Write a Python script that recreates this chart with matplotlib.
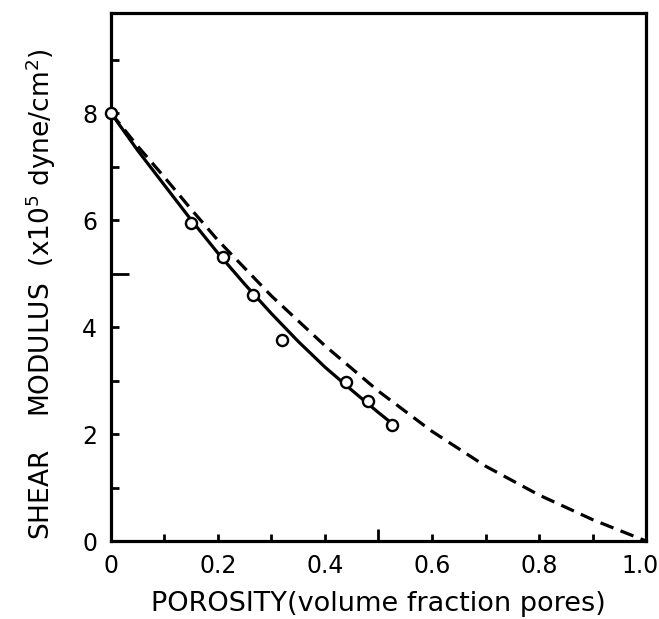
import matplotlib
matplotlib.use("Agg")
import matplotlib.pyplot as plt
from matplotlib.transforms import ScaledTranslation

# Data
pts_x = [0.0, 0.15, 0.21, 0.265, 0.32, 0.44, 0.48, 0.525]
pts_y = [8.0, 5.95, 5.3, 4.6, 3.75, 2.97, 2.62, 2.17]

solid_x = [0.0, 0.05, 0.1, 0.15, 0.2, 0.25, 0.3, 0.35, 0.4, 0.45, 0.5, 0.525]
solid_y = [8.0, 7.3, 6.65, 6.0, 5.38, 4.8, 4.25, 3.73, 3.25, 2.82, 2.4, 2.2]

dash_x = [0.0, 0.05, 0.1, 0.15, 0.2, 0.3, 0.4, 0.5, 0.6, 0.7, 0.8, 0.9, 0.95, 1.0]
dash_y = [8.0, 7.38, 6.8, 6.2, 5.62, 4.58, 3.65, 2.8, 2.05, 1.4, 0.86, 0.4, 0.2, 0.0]

xticks = [0, 0.1, 0.2, 0.3, 0.4, 0.5, 0.6, 0.7, 0.8, 0.9, 1.0]
xticklabels = ["0", "", "0.2", "", "0.4", "", "0.6", "", "0.8", "", "1.0"]
yticks = [0, 1, 2, 3, 4, 5, 6, 7, 8, 9]
yticklabels = ["0", "", "2", "", "4", "", "6", "", "8", ""]

plt.rcParams['font.family'] = ['DejaVu Sans']
plt.rcParams['lines.scale_dashes'] = False

fig = plt.figure(figsize=(6.59, 6.19), dpi=100)
ax = fig.add_axes([0.1684, 0.126, 0.8119, 0.853])

ax.plot(solid_x, solid_y, color='black', lw=2.3, solid_capstyle='butt', zorder=2)
ax.plot(dash_x, dash_y, color='black', lw=2.3, dashes=(10, 5.5), zorder=2)
ax.plot(pts_x, pts_y, linestyle='none', marker='o', ms=8, mfc='white',
        mec='black', mew=1.7, zorder=3, clip_on=False)

ax.set_xlim(0, 1.0)
ax.set_ylim(0, 9.87)

for s in ax.spines.values():
    s.set_linewidth(2.3)

ax.set_xticks(xticks)
ax.set_xticklabels(xticklabels)
ax.set_yticks(yticks)
ax.set_yticklabels(yticklabels)

ax.tick_params(axis='both', which='major', direction='in', width=2.0,
               labelsize=17, top=False, right=False)
ax.tick_params(axis='x', which='major', length=5, pad=9)
ax.tick_params(axis='y', which='major', length=6, pad=10)

# longer ticks at 0.5 and 5
for t in ax.xaxis.get_major_ticks():
    if abs(t.get_loc() - 0.5) < 1e-6:
        t.tick1line.set_markersize(9)
for t in ax.yaxis.get_major_ticks():
    if abs(t.get_loc() - 5) < 1e-6:
        t.tick1line.set_markersize(13)

# keep the "1.0" label inside the figure
lbl = ax.get_xticklabels()[-1]
lbl.set_transform(lbl.get_transform() + ScaledTranslation(-6 / 100, 0, fig.dpi_scale_trans))

ax.set_xlabel("POROSITY(volume fraction pores)", fontsize=19.5, labelpad=10)
ax.set_ylabel(r"SHEAR    MODULUS  (x10$^5$ dyne/cm$^2$)", fontsize=19)
ax.yaxis.set_label_coords(-0.099, 0.468)

fig.savefig("out.png", dpi=100)
